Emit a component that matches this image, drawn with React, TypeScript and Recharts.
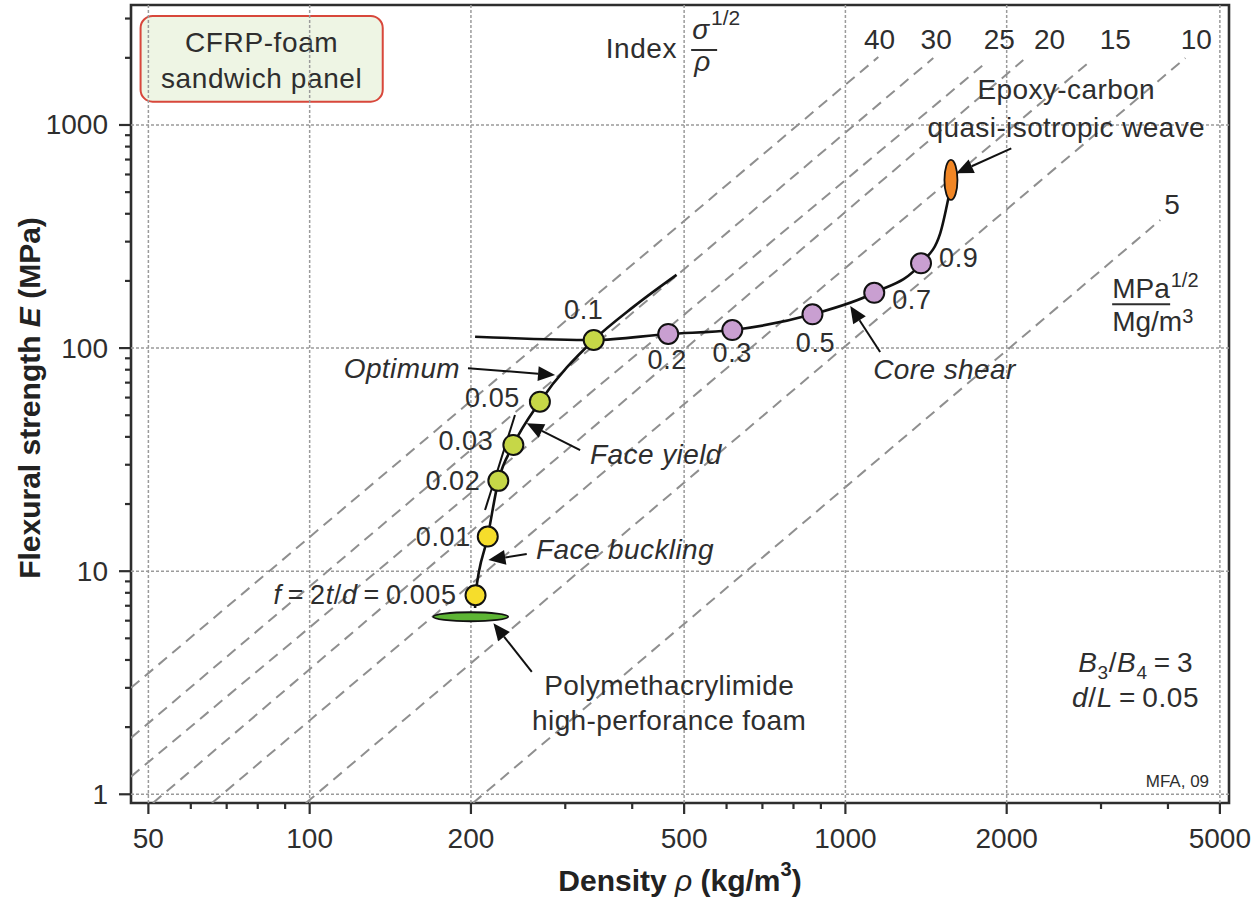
import React from 'react';
import {
  ComposedChart, XAxis, YAxis, Line, Scatter,
  ReferenceLine, ReferenceDot, ReferenceArea, Label,
} from 'recharts';

const FONT = '"Liberation Sans", Arial, Helvetica, sans-serif';
const INK = '#2e2e2e';

// axes: density (kg/m3) and flexural strength (MPa), both log
const densityDomain = [46.4, 5200];
const strengthDomain = [0.914, 3450];
const densityMajor = [50, 100, 200, 500, 1000, 2000, 5000];
const densityMinor = [60, 70, 80, 90, 300, 400, 600, 700, 800, 900, 3000, 4000];
const strengthMajor = [1, 10, 100, 1000];
const strengthMinor = [2, 3, 4, 5, 6, 7, 8, 9, 20, 30, 40, 50, 60, 70, 80, 90,
  200, 300, 400, 500, 600, 700, 800, 900, 2000, 3000];

// face fraction f = 2t/d along the optimum path
const fractions = ['0.005', '0.01', '0.02', '0.03', '0.05', '0.1', '0.2', '0.3', '0.5', '0.7', '0.9'];
const fracDensity = [204, 215, 225, 240, 269, 339, 467, 615, 868, 1132, 1384];
const fracStrength = [7.8, 14.3, 25.4, 36.8, 57.5, 108.7, 115.7, 120.5, 141.7, 177, 240];
const fracMode = ['buckling', 'buckling', 'yield', 'yield', 'yield', 'yield',
  'shear', 'shear', 'shear', 'shear', 'shear'];

// face buckling / face yield curve
const faceDensity = [203.6, 204, 215, 225, 240, 269, 339, 402, 484];
const faceStrength = [6.84, 7.8, 14.3, 25.4, 36.8, 57.5, 108.7, 153, 213];
// core shear curve
const shearDensity = [203.6, 339, 467, 615, 868, 1132, 1384, 1503, 1557];
const shearStrength = [112.5, 108.7, 115.7, 120.5, 141.7, 177, 240, 327, 471];
// short face yield branch
const branchDensity = [212.5, 241.7];
const branchStrength = [18.8, 50.1];

// the two parent materials
const materials = ['foam', 'epoxy'];
const materialDensity = [199.8, 1574];
const materialStrength = [6.25, 567];

// index lines sigma^1/2 / rho (start / end of each dashed line)
const indexValues = [40, 30, 25, 20, 15, 10, 5];
const indexStartDensity = [46.4, 46.4, 46.4, 51, 65.7, 98.4, 201.8];
const indexStartStrength = [3.0, 1.79, 1.2, 0.914, 0.914, 0.914, 0.914];
const indexEndDensity = [1152, 1459, 1808, 2148, 2852, 4311, 3871];
const indexEndStrength = [2017, 1996, 1858, 1955, 1916, 1996, 375];
const indexLabelDensity = [1158, 1477, 1937, 2405, 3190, 4519, 4071];
const indexLabelStrength = [2423, 2423, 2423, 2423, 2423, 2423, 438];

// annotations
const noteText = ['Optimum', 'Face yield', 'Face buckling', 'Core shear',
  'Epoxy-carbon', 'quasi-isotropic weave', 'Polymethacrylimide', 'high-perforance foam'];
const noteDensity = [190.9, 333.8, 264.6, 1127, 2584, 2584, 468.8, 468.8];
const noteStrength = [81.4, 33.2, 12.45, 79.8, 1435, 970, 3.06, 2.15];
const arrowFrom = [[197.5, 81.2], [319.8, 34.9], [254.2, 11.94], [1161, 96], [2040, 786], [259.8, 3.54]];
const arrowTo = [[287.1, 75.8], [254.2, 46], [215.6, 11.22], [1021, 154.4], [1610, 607.5], [220.3, 5.84]];

const points = fractions.map((f, i) => ({ f, x: fracDensity[i], y: fracStrength[i], mode: fracMode[i], i }));
const faceCurve = faceDensity.map((x, i) => ({ x, y: faceStrength[i] }));
const shearCurve = shearDensity.map((x, i) => ({ x, y: shearStrength[i] }));
const branchCurve = branchDensity.map((x, i) => ({ x, y: branchStrength[i] }));
const materialPts = materials.map((m, i) => ({ m, x: materialDensity[i], y: materialStrength[i] }));

const modeFill: Record<string, string> = { buckling: '#f6dd2b', yield: '#c6d747', shear: '#c99fd1' };
const labelPos = [
  { dx: -19, dy: 0, a: 'end' }, { dx: -17, dy: 0, a: 'end' }, { dx: -18, dy: 0, a: 'end' },
  { dx: -20, dy: -4, a: 'end' }, { dx: -20, dy: -4, a: 'end' }, { dx: -10, dy: -30, a: 'middle' },
  { dx: -1, dy: 26, a: 'middle' }, { dx: 0, dy: 23, a: 'middle' }, { dx: 3, dy: 29, a: 'middle' },
  { dx: 18, dy: 7, a: 'start' }, { dx: 18, dy: -5, a: 'start' },
];

const txt = { fontFamily: FONT, fill: INK, fontSize: 27, letterSpacing: 0.6 };

const XTick = (props: any) => {
  const { x, y, payload } = props;
  const major = densityMajor.includes(payload.value);
  return (
    <g>
      <line x1={x} x2={x} y1={y} y2={y + (major ? 11 : 6)} stroke={INK} strokeWidth={2.2} />
      {major && (
        <text x={x} y={y + 35} textAnchor="middle" dominantBaseline="central" {...txt} fontSize={28} letterSpacing={0}>
          {payload.value}
        </text>
      )}
    </g>
  );
};

const YTick = (props: any) => {
  const { x, y, payload } = props;
  const major = strengthMajor.includes(payload.value);
  return (
    <g>
      <line x1={x} x2={x - (major ? 12 : 6)} y1={y} y2={y} stroke={INK} strokeWidth={2.2} />
      {major && (
        <text x={x - 23} y={y} textAnchor="end" dominantBaseline="central" {...txt} fontSize={28} letterSpacing={0}>
          {payload.value}
        </text>
      )}
    </g>
  );
};

const Arrow = (p: any) => {
  const { x1, y1, x2, y2 } = p;
  const ang = Math.atan2(y2 - y1, x2 - x1);
  const c = Math.cos(ang), s = Math.sin(ang);
  const L = 17, W = 7.5;
  const bx = x2 - L * c, by = y2 - L * s;
  return (
    <g>
      <line x1={x1} y1={y1} x2={bx} y2={by} stroke="#111" strokeWidth={2} />
      <polygon points={`${x2},${y2} ${bx - W * s},${by + W * c} ${bx + W * s},${by - W * c}`} fill="#111" />
    </g>
  );
};

const FracDot = (p: any) => {
  const { cx, cy, payload } = p;
  const pos = labelPos[payload.i];
  const label = payload.i === 0
    ? (<>
      <tspan fontStyle="italic">f</tspan>{'\u2009=\u2009'}2<tspan fontStyle="italic">t</tspan>/<tspan fontStyle="italic">d</tspan>{'\u2009=\u2009'}0.005
    </>)
    : payload.f;
  return (
    <g>
      <circle cx={cx} cy={cy} r={10} fill={modeFill[payload.mode]} stroke="#111" strokeWidth={2} />
      <text x={cx + pos.dx} y={cy + pos.dy} textAnchor={pos.a} dominantBaseline="central" {...txt}>{label}</text>
    </g>
  );
};

const MaterialShape = (p: any) => {
  const { cx, cy, payload } = p;
  if (payload.m === 'foam') {
    return <ellipse cx={cx} cy={cy} rx={37.5} ry={4.5} fill="#5db534" stroke="#111" strokeWidth={1.8} />;
  }
  return <ellipse cx={cx} cy={cy} rx={6.5} ry={20} fill="#f18625" stroke="#111" strokeWidth={1.8} />;
};

const IndexTitle = (p: any) => {
  const { cx, cy } = p;
  return (
    <g>
      <text x={cx} y={cy + 10} textAnchor="end" {...txt} fontSize={28}>Index</text>
      <text x={cx + 15} y={cy - 9} {...txt} fontSize={28} fontStyle="italic" letterSpacing={0}>
        σ<tspan dx={2} dy={-14} fontSize={21} fontStyle="normal">1/2</tspan>
      </text>
      <line x1={cx + 14} x2={cx + 40} y1={cy + 2} y2={cy + 2} stroke={INK} strokeWidth={2} />
      <text x={cx + 17} y={cy + 23} {...txt} fontSize={28} fontStyle="italic" letterSpacing={0}>ρ</text>
    </g>
  );
};

const UnitsTitle = (p: any) => {
  const { cx, cy } = p;
  return (
    <g>
      <text x={cx} y={cy - 6} {...txt} fontSize={28} letterSpacing={0}>
        MPa<tspan dx={1} dy={-11} fontSize={20}>1/2</tspan>
      </text>
      <line x1={cx} x2={cx + 58} y1={cy} y2={cy} stroke={INK} strokeWidth={2} />
      <text x={cx} y={cy + 27} {...txt} fontSize={28} letterSpacing={0}>
        Mg/m<tspan dy={-8} fontSize={20}>3</tspan>
      </text>
    </g>
  );
};

const Ratios = (p: any) => {
  const { cx, cy } = p;
  return (
    <g>
      <text x={cx} y={cy} textAnchor="end" {...txt} fontSize={28}>
        <tspan fontStyle="italic">B</tspan><tspan dy={7} fontSize={19}>3</tspan>
        <tspan dy={-7}>/</tspan><tspan fontStyle="italic">B</tspan><tspan dy={7} fontSize={19}>4</tspan>
        <tspan dy={-7}>{'\u2009=\u2009'}3</tspan>
      </text>
      <text x={cx + 6} y={cy + 35} textAnchor="end" {...txt} fontSize={28}>
        <tspan fontStyle="italic">d</tspan>/<tspan fontStyle="italic">L</tspan>{'\u2009=\u2009'}0.05
      </text>
    </g>
  );
};

const PanelBox = (p: any) => {
  const { x, y, width, height } = p;
  return (
    <g>
      <rect x={x} y={y} width={width} height={height} rx={12} fill="#eef5e4" stroke="#d8473b" strokeWidth={2} />
      <text x={x + width / 2} y={y + 27} textAnchor="middle" dominantBaseline="central" {...txt} fontSize={28}>CFRP-foam</text>
      <text x={x + width / 2} y={y + 63} textAnchor="middle" dominantBaseline="central" {...txt} fontSize={28}>sandwich panel</text>
    </g>
  );
};

export default function App() {
  return (
    <div style={{ position: 'absolute', left: 0, top: 0, width: 1256, height: 898, background: '#fff' }}>
      <ComposedChart width={1256} height={898} margin={{ top: 5, right: 27, bottom: 35, left: 71 }}>
        <XAxis
          dataKey="x" type="number" scale="log" domain={densityDomain} allowDataOverflow
          ticks={[...densityMajor, ...densityMinor]} interval={0}
          tick={<XTick />} tickLine={false} axisLine={false} tickSize={0} tickMargin={0} height={60}
        >
          <Label content={(p: any) => {
            const vb = p.viewBox;
            return (
              <text x={vb.x + vb.width / 2} y={vb.y + 77} textAnchor="middle" dominantBaseline="central"
                fontFamily={FONT} fontSize={30} fontWeight="bold" fill="#222">
                Density <tspan fontStyle="italic" fontWeight="normal">ρ</tspan> (kg/m<tspan dy={-11} fontSize={20}>3</tspan><tspan dy={11}>)</tspan>
              </text>
            );
          }} />
        </XAxis>
        <YAxis
          dataKey="y" type="number" scale="log" domain={strengthDomain} allowDataOverflow
          ticks={[...strengthMajor, ...strengthMinor]} interval={0}
          tick={<YTick />} tickLine={false} axisLine={false} tickSize={0} tickMargin={0} width={60}
        >
          <Label content={(p: any) => {
            const vb = p.viewBox;
            const cx = vb.x + vb.width - 102;
            const cy = vb.y + vb.height / 2 - 6;
            return (
              <text x={cx} y={cy} transform={`rotate(-90 ${cx} ${cy})`} textAnchor="middle" dominantBaseline="central"
                fontFamily={FONT} fontSize={30} fontWeight="bold" fill="#222">
                Flexural strength <tspan fontStyle="italic">E</tspan> (MPa)
              </text>
            );
          }} />
        </YAxis>

        {densityMajor.map((v) => (
          <ReferenceLine key={`gx${v}`} x={v} stroke="#9b9b9b" strokeWidth={1.5} strokeDasharray="3 2" ifOverflow="visible" />
        ))}
        {strengthMajor.map((v) => (
          <ReferenceLine key={`gy${v}`} y={v} stroke="#9b9b9b" strokeWidth={1.5} strokeDasharray="3 2" ifOverflow="visible" />
        ))}

        {indexValues.map((c, i) => (
          <ReferenceLine
            key={`ix${c}`}
            segment={[
              { x: indexStartDensity[i], y: indexStartStrength[i] },
              { x: indexEndDensity[i], y: indexEndStrength[i] },
            ]}
            stroke="#8f8f8f" strokeWidth={2} strokeDasharray="11 7" ifOverflow="hidden"
          />
        ))}
        {indexValues.map((c, i) => (
          <ReferenceDot
            key={`il${c}`} x={indexLabelDensity[i]} y={indexLabelStrength[i]} r={0} ifOverflow="visible"
            shape={(p: any) => (
              <text x={p.cx} y={p.cy} textAnchor="middle" dominantBaseline="central" {...txt} fontSize={28} letterSpacing={0}>{c}</text>
            )}
          />
        ))}

        <ReferenceArea
          x1={densityDomain[0]} x2={densityDomain[1]} y1={strengthDomain[0]} y2={strengthDomain[1]}
          ifOverflow="visible" fill="none" stroke={INK} strokeWidth={2.6} fillOpacity={0}
        />

        <ReferenceArea x1={48.35} x2={136.9} y1={1272} y2={3081} ifOverflow="visible" shape={<PanelBox />} />
        <ReferenceDot x={485.2} y={2214} r={0} ifOverflow="visible" shape={<IndexTitle />} />
        <ReferenceDot x={3147} y={157.1} r={0} ifOverflow="visible" shape={<UnitsTitle />} />
        <ReferenceDot x={4457} y={3.533} r={0} ifOverflow="visible" shape={<Ratios />} />
        <ReferenceDot
          x={4773} y={1.082} r={0} ifOverflow="visible"
          shape={(p: any) => (
            <text x={p.cx} y={p.cy} textAnchor="end" fontFamily={FONT} fontSize={17} fill={INK}>MFA, 09</text>
          )}
        />

        {noteText.map((t, i) => (
          <ReferenceDot
            key={`n${i}`} x={noteDensity[i]} y={noteStrength[i]} r={0} ifOverflow="visible"
            shape={(p: any) => (
              <text
                x={p.cx} y={p.cy} dominantBaseline="central" {...txt} fontSize={28} letterSpacing={0.4}
                textAnchor={i === 0 ? 'end' : i < 4 ? 'start' : 'middle'}
                fontStyle={i < 4 ? 'italic' : 'normal'}
              >{t}</text>
            )}
          />
        ))}
        {arrowFrom.map((a, i) => (
          <ReferenceLine
            key={`a${i}`}
            segment={[{ x: a[0], y: a[1] }, { x: arrowTo[i][0], y: arrowTo[i][1] }]}
            ifOverflow="visible" shape={<Arrow />}
          />
        ))}

        <Line data={branchCurve} dataKey="y" type="linear" stroke="#111" strokeWidth={2} dot={false} isAnimationActive={false} />
        <Line data={shearCurve} dataKey="y" type="monotone" stroke="#111" strokeWidth={2.6} dot={false} isAnimationActive={false} />
        <Line data={faceCurve} dataKey="y" type="monotone" stroke="#111" strokeWidth={2.6} dot={false} isAnimationActive={false} />
        <Scatter data={materialPts} dataKey="y" shape={<MaterialShape />} isAnimationActive={false} />
        <Scatter data={points} dataKey="y" shape={<FracDot />} isAnimationActive={false} />
      </ComposedChart>
    </div>
  );
}
